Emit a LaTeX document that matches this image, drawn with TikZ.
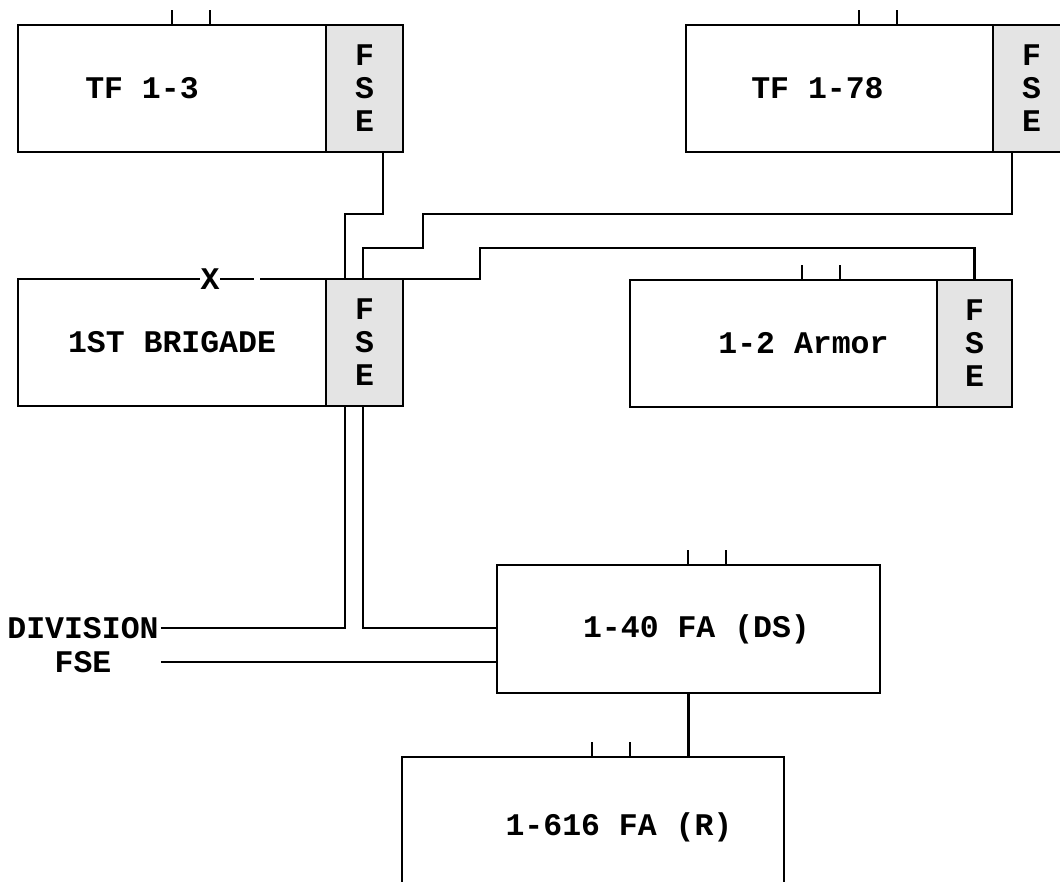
\documentclass[tikz,border=0pt]{standalone}
\usepackage{fontspec}
\setmonofont{Liberation Mono}
\usetikzlibrary{positioning}
\definecolor{stipple}{HTML}{E4E4E4}
\tikzset{
  unit/.style={draw,line width=2.7pt,outer sep=0pt,inner sep=0pt,minimum height=127pt},
  fse/.style={unit,fill=stipple,minimum width=77pt,align=center,font=\fontsize{31.5}{33}\selectfont\ttfamily\bfseries},
  link/.style={line width=2.6pt},
  tick/.style={line width=2.6pt}
}
\begin{document}
\begin{tikzpicture}[x=1pt,y=1pt,font=\fontsize{31.5}{36}\selectfont\ttfamily\bfseries]
\useasboundingbox (0,0) rectangle (1060,882);
\clip (0,0) rectangle (1060,882);
% task forces
\node[unit,minimum width=308pt,label={[xshift=-30pt]center:TF 1-3}](tf13) at (172,793.5){};
\node[fse,right=0pt of tf13](tf13fse){F\\S\\E};
\node[unit,minimum width=307pt,label={[xshift=-22pt]center:TF 1-78}](tf178) at (839.5,793.5){};
\node[fse,right=0pt of tf178](tf178fse){F\\S\\E};
% brigade and armor
\node[unit,minimum width=308pt,label={center:1ST BRIGADE}](bde) at (172,539.5){};
\node[fse,right=0pt of bde](bdefse){F\\S\\E};
\node[unit,minimum width=307pt,label={[xshift=20pt]center:1-2 Armor}](armor) at (783.5,538.5){};
\node[fse,minimum width=75pt,right=0pt of armor](armorfse){F\\S\\E};
% artillery
\node[unit,minimum width=383pt,minimum height=128pt,label={[xshift=8pt]center:1-40 FA (DS)}](ds) at (688.5,253){};
\node[unit,minimum width=382pt,minimum height=140pt,label={[xshift=26pt]center:1-616 FA (R)}](r) at (593,55){};
\node[align=center,inner sep=0pt,font=\fontsize{31.5}{34}\selectfont\ttfamily\bfseries](div) at (83,237){DIVISION\\FSE};
% brigade mark
\fill[white] ([xshift=236pt,yshift=-3pt]bde.north west) rectangle ++(6,6);
\node[fill=white,inner sep=1pt](bdex) at ([xshift=192pt]bde.north west){X};
% unit ticks
\foreach \u/\d in {tf13/154,tf178/173,armor/172,ds/191,r/190}{
  \draw[tick]([xshift=\d pt]\u.north west) -- ++(0,15);
  \draw[tick]([xshift=\d pt+38pt]\u.north west) -- ++(0,15);
}
% connectors
\draw[link]([xshift=-20pt]tf13fse.south east) -- ++(0,-62) -| ([xshift=19pt]bdefse.north west);
\draw[link]([xshift=19pt]tf178fse.south west) -- ++(0,-62) -| ([xshift=97pt,yshift=31pt]bdefse.north west) -| ([xshift=37pt]bdefse.north west);
\draw[link](armorfse.north) |- ([xshift=77pt,yshift=31pt]bdefse.north east) |- (bdefse.north east);
\draw[link]([xshift=2pt,yshift=17pt]div.east) -| ([xshift=19pt]bdefse.south west);
\draw[link]([xshift=37pt]bdefse.south west) |- ([yshift=17pt]div.east -| ds.west);
\draw[link]([xshift=2pt,yshift=-17pt]div.east) -- ([yshift=-17pt]div.east -| ds.west);
\draw[link](ds.south) -- (ds.south |- r.north);
\end{tikzpicture}
\end{document}
